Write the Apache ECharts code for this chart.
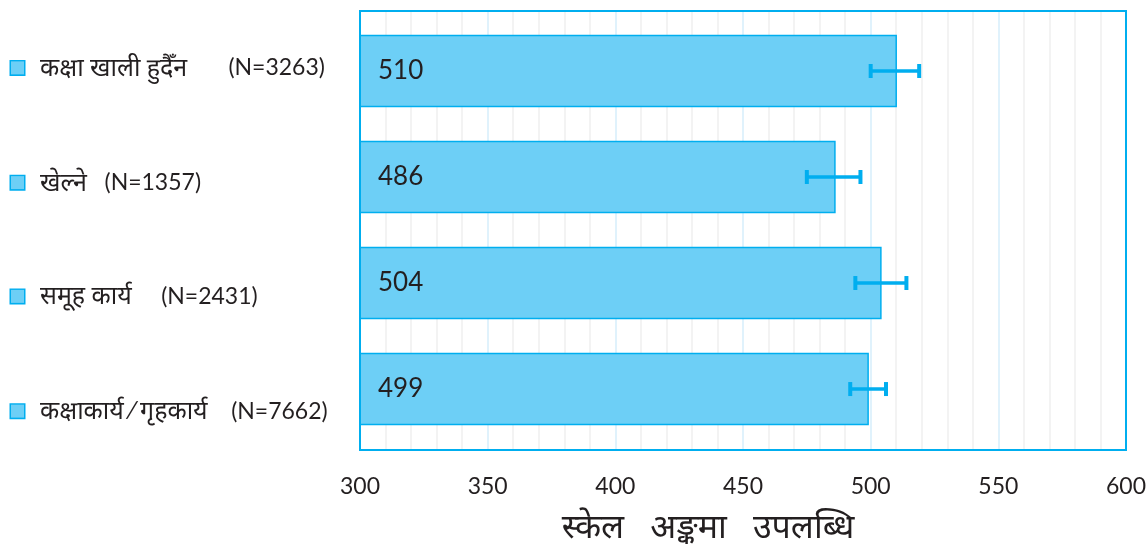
<!DOCTYPE html>
<html>
<head>
<meta charset="utf-8">
<script src="https://cdn.jsdelivr.net/npm/echarts@6/dist/echarts.min.js"></script>
<style>
    html, body { margin: 0; padding: 0; background: #fff; }
    #chart { width: 1148px; height: 545px; }
</style>
</head>
<body>
<div id="chart"></div>
<script>
var categories = ['कक्षा खाली हुदैँन', 'खेल्ने', 'समूह कार्य', 'कक्षाकार्य ⁄ गृहकार्य'];
var counts = ['N=3263', 'N=1357', 'N=2431', 'N=7662'];
var scores = [510, 486, 504, 499];
var errLow = [500, 475, 494, 492];
var errHigh = [519, 496, 514, 506];
var xTicks = [300, 600, 50];

var font = 'Lato, "Noto Sans Devanagari", "Noto Sans", sans-serif';
var cyan = '#00AEEF';
var fill = '#6DCFF6';

window.onload = function () {
    var myChart = echarts.init(document.getElementById('chart'));

    // spacing between name and count, and small downward shift of each label
    var gaps = ['       ', '   ', '     ', '    '];
    var labelPad = [4, 14, 22, 32];

    var labelRich = {
        sq: {
            width: 13,
            height: 13,
            backgroundColor: fill,
            borderColor: cyan,
            borderWidth: 1.5
        },
        t: { fontSize: 25, color: '#231F20', padding: [0, 0, 0, 16], fontFamily: font },
        n: { fontSize: 23, color: '#231F20', fontFamily: font }
    };

    var labelData = categories.map(function (c, i) {
        return {
            value: '{sq|}{t|' + c + '}' + '{n|' + gaps[i] + '(' + counts[i] + ')}',
            textStyle: {
                align: 'left',
                fontSize: 22,
                color: '#231F20',
                padding: [labelPad[i], 0, 0, 0],
                rich: labelRich
            }
        };
    });

    var option = {
        animation: false,
        textStyle: { fontFamily: font },
        grid: {
            left: 360,
            right: 22,
            top: 11,
            bottom: 95,
            outerBoundsMode: 'none',
            containLabel: false,
            show: true,
            borderColor: cyan,
            borderWidth: 2,
            z: 5
        },
        xAxis: {
            type: 'value',
            min: xTicks[0],
            max: xTicks[1],
            interval: xTicks[2],
            name: 'स्केल   अङ्कमा   उपलब्धि',
            nameLocation: 'middle',
            nameGap: 60,
            nameTextStyle: { fontSize: 34, color: '#231F20', fontFamily: font, padding: [0, 70, 0, 0] },
            axisLine: { show: false },
            axisTick: { show: false },
            axisLabel: { fontSize: 23, color: '#231F20', margin: 25, fontFamily: font },
            splitLine: { show: true, lineStyle: { color: '#D6EEFB', width: 1.5 } },
            minorTick: { show: false, splitNumber: 5 },
            minorSplitLine: { show: true, lineStyle: { color: '#EFEFEF', width: 1.5 } }
        },
        yAxis: [
            {
                type: 'category',
                inverse: true,
                data: labelData,
                axisLine: { show: false },
                axisTick: { show: false },
                splitLine: { show: false },
                axisLabel: {
                    align: 'left',
                    margin: 349,
                    fontSize: 22,
                    color: '#231F20',
                    rich: labelRich
                }
            },
            {
                type: 'value',
                show: false,
                inverse: true,
                min: -0.566,
                max: 3.575,
                splitLine: { show: false }
            }
        ],
        series: [
            {
                type: 'custom',
                yAxisIndex: 1,
                z: 2,
                data: scores.map(function (s, i) { return [s, i]; }),
                encode: { x: 0, y: 1 },
                renderItem: function (params, api) {
                    var v = api.value(0);
                    var idx = api.value(1);
                    var start = api.coord([xTicks[0], idx]);
                    var end = api.coord([v, idx]);
                    var h = 71;
                    return {
                        type: 'group',
                        children: [
                            {
                                type: 'rect',
                                shape: { x: start[0], y: start[1] - h / 2, width: end[0] - start[0], height: h },
                                style: { fill: fill, stroke: cyan, lineWidth: 1.5 }
                            },
                            {
                                type: 'text',
                                x: start[0] + 18,
                                y: start[1],
                                style: {
                                    text: String(v),
                                    fontSize: 26,
                                    fontFamily: font,
                                    fill: '#231F20',
                                    verticalAlign: 'middle',
                                    align: 'left'
                                }
                            }
                        ]
                    };
                }
            },
            {
                type: 'custom',
                yAxisIndex: 1,
                z: 10,
                data: scores.map(function (s, i) { return [i, errLow[i], errHigh[i]]; }),
                encode: { y: 0, x: [1, 2] },
                renderItem: function (params, api) {
                    var cat = api.value(0);
                    var a = api.coord([api.value(1), cat]);
                    var b = api.coord([api.value(2), cat]);
                    var h = 7;
                    var st = { stroke: cyan, lineWidth: 4 };
                    return {
                        type: 'group',
                        children: [
                            { type: 'line', shape: { x1: a[0], y1: a[1], x2: b[0], y2: b[1] }, style: { stroke: cyan, lineWidth: 3.5 } },
                            { type: 'line', shape: { x1: a[0], y1: a[1] - h, x2: a[0], y2: a[1] + h }, style: st },
                            { type: 'line', shape: { x1: b[0], y1: b[1] - h, x2: b[0], y2: b[1] + h }, style: st }
                        ]
                    };
                }
            }
        ]
    };

    myChart.setOption(option);
};
</script>
</body>
</html>
